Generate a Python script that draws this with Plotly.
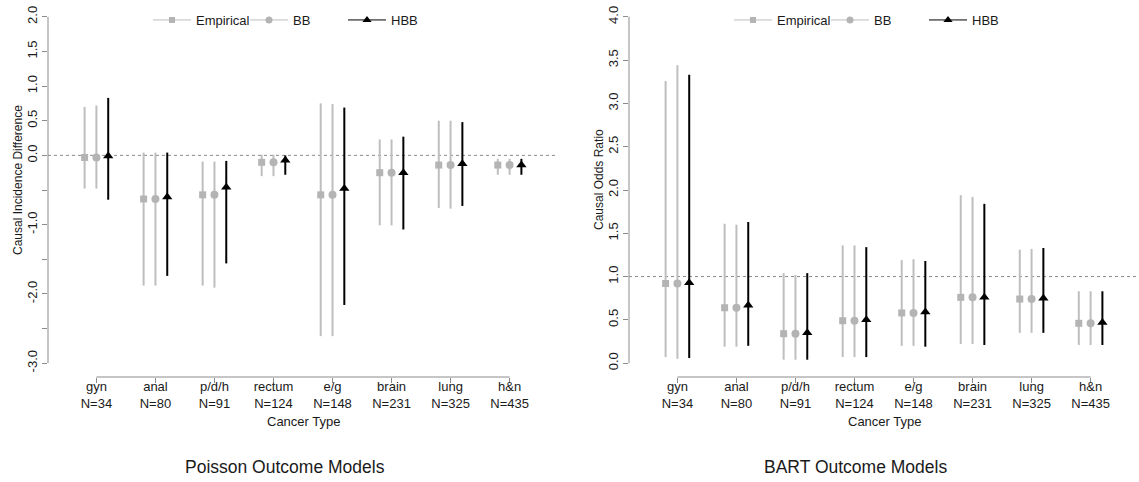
import plotly.graph_objects as go

# ---------------- data ----------------
categories = ["gyn", "anal", "p/d/h", "rectum", "e/g", "brain", "lung", "h&n"]
sample_sizes = [34, 80, 91, 124, 148, 231, 325, 435]
methods = ["Empirical", "BB", "HBB"]

# Poisson outcome models: causal incidence difference
pois_emp_est = [-0.03, -0.63, -0.57, -0.10, -0.57, -0.25, -0.14, -0.14]
pois_emp_lo = [-0.48, -1.88, -1.88, -0.30, -2.61, -1.01, -0.76, -0.28]
pois_emp_hi = [0.70, 0.04, -0.09, 0.01, 0.75, 0.23, 0.50, -0.05]
pois_bb_est = [-0.03, -0.63, -0.57, -0.10, -0.57, -0.25, -0.14, -0.14]
pois_bb_lo = [-0.48, -1.88, -1.91, -0.30, -2.61, -1.01, -0.77, -0.28]
pois_bb_hi = [0.72, 0.04, -0.09, 0.01, 0.74, 0.23, 0.50, -0.05]
pois_hbb_est = [-0.01, -0.60, -0.46, -0.07, -0.48, -0.25, -0.12, -0.14]
pois_hbb_lo = [-0.64, -1.74, -1.56, -0.28, -2.16, -1.07, -0.73, -0.28]
pois_hbb_hi = [0.83, 0.04, -0.08, 0.00, 0.69, 0.27, 0.48, -0.05]

# BART outcome models: causal odds ratio
bart_emp_est = [0.92, 0.64, 0.34, 0.49, 0.58, 0.76, 0.74, 0.46]
bart_emp_lo = [0.07, 0.19, 0.04, 0.07, 0.20, 0.22, 0.35, 0.21]
bart_emp_hi = [3.26, 1.61, 1.04, 1.36, 1.19, 1.94, 1.31, 0.83]
bart_bb_est = [0.92, 0.64, 0.34, 0.49, 0.58, 0.76, 0.74, 0.46]
bart_bb_lo = [0.05, 0.19, 0.04, 0.07, 0.20, 0.22, 0.35, 0.21]
bart_bb_hi = [3.44, 1.60, 1.02, 1.36, 1.20, 1.92, 1.32, 0.83]
bart_hbb_est = [0.93, 0.67, 0.35, 0.50, 0.59, 0.76, 0.75, 0.47]
bart_hbb_lo = [0.06, 0.20, 0.04, 0.07, 0.19, 0.21, 0.35, 0.21]
bart_hbb_hi = [3.33, 1.63, 1.04, 1.34, 1.18, 1.84, 1.33, 0.83]

left_yticks = [2.0, 1.5, 1.0, 0.5, 0.0, -0.5, -1.0, -1.5, -2.0, -2.5, -3.0]
left_yticktext = ["2.0", "1.5", "1.0", "0.5", "0.0", "", "-1.0", "", "-2.0", "", "-3.0"]
right_yticks = [0.0, 0.5, 1.0, 1.5, 2.0, 2.5, 3.0, 3.5, 4.0]
right_yticktext = ["0.0", "0.5", "1.0", "1.5", "2.0", "2.5", "3.0", "3.5", "4.0"]

# ---------------- style ----------------
W, H = 1139, 482
FONT = "Liberation Sans, Arial, Helvetica, sans-serif"
GRAY = "#bebebe"
GRAY_MK = "#b4b4b4"
BLACK = "#000000"
AXIS_COL = "#8c8c8c"
TXT = "#1a1a1a"

positions = list(range(1, len(categories) + 1))
offsets = {"Empirical": -0.2, "BB": 0.0, "HBB": 0.2}
styles = {
    "Empirical": dict(color=GRAY, mcolor=GRAY_MK, symbol="square", size=7),
    "BB": dict(color=GRAY, mcolor=GRAY_MK, symbol="circle", size=8),
    "HBB": dict(color=BLACK, mcolor=BLACK, symbol="triangle-up", size=9),
}
# legend entry left edges (px), one single-item legend per entry
legend_left_px = {
    0: {"Empirical": 148, "BB": 245, "HBB": 343},
    1: {"Empirical": 729, "BB": 826, "HBB": 924},
}

panels = [
    dict(xa="x", ya="y",
         data={"Empirical": (pois_emp_est, pois_emp_lo, pois_emp_hi),
               "BB": (pois_bb_est, pois_bb_lo, pois_bb_hi),
               "HBB": (pois_hbb_est, pois_hbb_lo, pois_hbb_hi)}),
    dict(xa="x2", ya="y2",
         data={"Empirical": (bart_emp_est, bart_emp_lo, bart_emp_hi),
               "BB": (bart_bb_est, bart_bb_lo, bart_bb_hi),
               "HBB": (bart_hbb_est, bart_hbb_lo, bart_hbb_hi)}),
]

fig = go.Figure()
legend_layout = {}
lg_index = 0
for pi, p in enumerate(panels):
    for m in methods:
        est, lo, hi = p["data"][m]
        st = styles[m]
        fig.add_trace(go.Scatter(
            x=[pos + offsets[m] for pos in positions], y=est,
            mode="markers", xaxis=p["xa"], yaxis=p["ya"], showlegend=False,
            marker=dict(symbol=st["symbol"], size=st["size"], color=st["mcolor"]),
            error_y=dict(type="data", symmetric=False,
                         array=[h - e for h, e in zip(hi, est)],
                         arrayminus=[e - l for e, l in zip(est, lo)],
                         width=0, thickness=2, color=st["color"]),
            hoverinfo="skip"))
    for m in methods:
        st = styles[m]
        lg_index += 1
        lname = "legend" if lg_index == 1 else f"legend{lg_index}"
        legend_layout[lname] = dict(
            orientation="h", x=legend_left_px[pi][m] / W, xanchor="left",
            y=1 - 20 / H, yanchor="middle", bgcolor="rgba(0,0,0,0)", borderwidth=0,
            itemwidth=38, font=dict(family=FONT, size=13, color=TXT))
        fig.add_trace(go.Scatter(
            x=[None], y=[None], mode="lines+markers", name=m,
            xaxis=p["xa"], yaxis=p["ya"], legend=lname, showlegend=True,
            line=dict(color=st["color"], width=1),
            marker=dict(symbol=st["symbol"], size=st["size"] - 1, color=st["mcolor"])))

# ---------------- layout ----------------
yd = [(H - 377) / H, (H - 3) / H]
xd1 = [48 / W, 558 / W]
xd2 = [629 / W, 1.0]
xrange_ = [0.18, 8.82]
ticktext_x = [f"{c}<br>N={n}" for c, n in zip(categories, sample_sizes)]

xaxis_common = dict(range=xrange_, tickmode="array", tickvals=positions, ticktext=ticktext_x,
                    ticks="outside", ticklen=5, tickcolor=AXIS_COL, tickwidth=1,
                    showline=False, showgrid=False, zeroline=False, ticklabelstandoff=-8,
                    tickfont=dict(family=FONT, size=13, color=TXT))
yaxis_common = dict(tickmode="array", ticks="outside", ticklen=5, tickcolor=AXIS_COL,
                    tickwidth=1, showline=False, showgrid=False, zeroline=False,
                    tickangle=-90, tickfont=dict(family=FONT, size=13, color=TXT))

fig.update_layout(
    width=W, height=H, margin=dict(l=0, r=0, t=0, b=0),
    paper_bgcolor="white", plot_bgcolor="white",
    font=dict(family=FONT, size=13, color=TXT),
    xaxis=dict(domain=xd1, anchor="y", **xaxis_common),
    xaxis2=dict(domain=xd2, anchor="y2", **xaxis_common),
    yaxis=dict(domain=yd, anchor="x", range=[-3.2, 2.2], tickvals=left_yticks,
               ticktext=left_yticktext, **yaxis_common),
    yaxis2=dict(domain=yd, anchor="x2", range=[-0.16, 4.16], tickvals=right_yticks,
                ticktext=right_yticktext, **yaxis_common),
    **legend_layout,
)

# R-style axis lines spanning first to last tick, and reference lines
for xa, ya, yt, ref in [("x", "y", left_yticks, 0.0), ("x2", "y2", right_yticks, 1.0)]:
    fig.add_shape(type="line", xref=f"{xa} domain", yref=ya, x0=0, x1=0,
                  y0=min(yt), y1=max(yt), line=dict(color=AXIS_COL, width=1))
    fig.add_shape(type="line", xref=xa, yref=f"{ya} domain", x0=positions[0], x1=positions[-1],
                  y0=0, y1=0, line=dict(color=AXIS_COL, width=1))
    fig.add_shape(type="line", xref=f"{xa} domain", yref=ya, x0=0, x1=1, y0=ref, y1=ref,
                  line=dict(color="#8a8a8a", width=1, dash="dot"), layer="below")

# titles
annos = [
    dict(text="Causal Incidence Difference", x=18 / W, y=1 - 180 / H, textangle=-90, size=12),
    dict(text="Causal Odds Ratio", x=(18 + 581) / W, y=1 - 180 / H, textangle=-90, size=12),
    dict(text="Cancer Type", x=303 / W, y=1 - 421 / H, textangle=0, size=13),
    dict(text="Cancer Type", x=884 / W, y=1 - 421 / H, textangle=0, size=13),
    dict(text="Poisson Outcome Models", x=285 / W, y=1 - 467 / H, textangle=0, size=17.5),
    dict(text="BART Outcome Models", x=855 / W, y=1 - 467 / H, textangle=0, size=17.5),
]
for a in annos:
    fig.add_annotation(text=a["text"], x=a["x"], y=a["y"], xref="paper", yref="paper",
                       xanchor="center", yanchor="middle", showarrow=False,
                       textangle=a["textangle"], font=dict(family=FONT, size=a["size"], color=TXT))

fig.write_html("out.html", config={"displayModeBar": False},
               post_script="document.body.style.margin='0px';document.body.style.overflow='hidden';")
